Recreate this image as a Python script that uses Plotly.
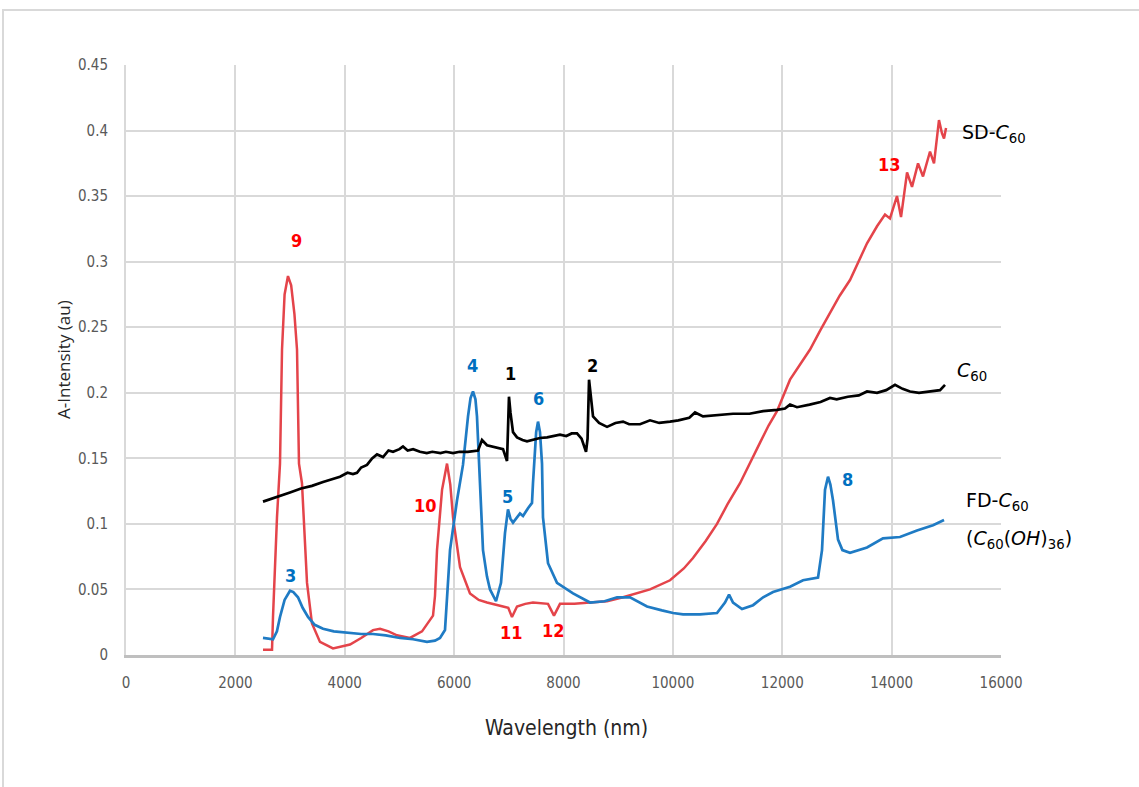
import plotly.graph_objects as go

# ---------------- data ----------------
c60_x = [2505, 2700, 2850, 2999, 3200, 3400, 3603, 3750, 3913, 4050, 4150, 4224, 4300, 4407, 4500,
         4590, 4700, 4800, 4882, 5000, 5065, 5150, 5250, 5376, 5500, 5600, 5750, 5850, 5980, 6100,
         6250, 6437, 6510, 6601, 6700, 6800, 6894, 6967, 6985, 7003, 7030, 7077, 7150, 7250, 7333,
         7450, 7570, 7700, 7800, 7936, 8050, 8150, 8247, 8330, 8412, 8440, 8467, 8500, 8540, 8650,
         8796, 8950, 9089, 9200, 9399, 9582, 9750, 9948, 10100, 10300, 10405, 10551, 10800, 11100,
         11400, 11650, 11904, 12050, 12142, 12270, 12500, 12700, 12873, 12995, 13200, 13400, 13550,
         13733, 13900, 14062, 14200, 14336, 14500, 14702, 14885, 14976]
c60_y = [0.117, 0.120, 0.122, 0.124, 0.127, 0.129, 0.132, 0.134, 0.136, 0.139, 0.138, 0.139, 0.143,
         0.145, 0.150, 0.153, 0.151, 0.156, 0.155, 0.157, 0.159, 0.156, 0.157, 0.155, 0.154, 0.155,
         0.154, 0.155, 0.154, 0.155, 0.155, 0.156, 0.164, 0.160, 0.159, 0.158, 0.157, 0.148, 0.170,
         0.197, 0.185, 0.170, 0.166, 0.164, 0.163, 0.164, 0.1655, 0.166, 0.167, 0.168, 0.167, 0.169,
         0.169, 0.165, 0.155, 0.165, 0.210, 0.195, 0.182, 0.177, 0.174, 0.177, 0.178, 0.176, 0.176,
         0.179, 0.177, 0.178, 0.179, 0.181, 0.185, 0.182, 0.183, 0.184, 0.184, 0.186, 0.187, 0.188,
         0.191, 0.189, 0.191, 0.193, 0.196, 0.195, 0.197, 0.198, 0.201, 0.200, 0.202, 0.206, 0.203,
         0.201, 0.200, 0.201, 0.202, 0.206]

sd_x = [2505, 2670, 2688, 2761, 2816, 2853, 2900, 2962, 3020, 3080, 3127, 3163, 3218, 3310, 3401,
        3547, 3785, 4096, 4300, 4517, 4645, 4800, 4955, 5193, 5413, 5559, 5614, 5650, 5687, 5779,
        5870, 5930, 5980, 6108, 6290, 6450, 6601, 6894, 6990, 7058, 7150, 7300, 7442, 7717, 7826,
        7936, 8200, 8485, 8796, 9089, 9350, 9582, 9948, 10200, 10368, 10600, 10807, 11000, 11228,
        11400, 11594, 11750, 11904, 12142, 12300, 12508, 12700, 12873, 13050, 13239, 13400, 13550,
        13733, 13879, 13970, 14098, 14172, 14282, 14373, 14483, 14574, 14702, 14775, 14866, 14920,
        14958, 14995]
sd_y = [0.004, 0.004, 0.029, 0.105, 0.146, 0.233, 0.275, 0.289, 0.282, 0.260, 0.233, 0.146, 0.131,
        0.055, 0.024, 0.010, 0.005, 0.008, 0.013, 0.019, 0.020, 0.018, 0.015, 0.013, 0.018, 0.027,
        0.030, 0.045, 0.080, 0.126, 0.146, 0.130, 0.105, 0.067, 0.047, 0.042, 0.040, 0.037, 0.036,
        0.029, 0.037, 0.039, 0.040, 0.039, 0.030, 0.039, 0.039, 0.040, 0.041, 0.044, 0.047, 0.050,
        0.057, 0.066, 0.074, 0.087, 0.100, 0.115, 0.131, 0.146, 0.162, 0.175, 0.186, 0.210, 0.220,
        0.233, 0.248, 0.261, 0.274, 0.286, 0.300, 0.314, 0.327, 0.336, 0.333, 0.350, 0.334, 0.368,
        0.357, 0.375, 0.365, 0.384, 0.375, 0.408, 0.398, 0.394, 0.402]

fd_x = [2505, 2688, 2760, 2816, 2900, 2999, 3060, 3145, 3230, 3328, 3450, 3603, 3800, 4041, 4300,
        4517, 4750, 5010, 5250, 5504, 5650, 5742, 5833, 5880, 5925, 6053, 6162, 6254, 6300, 6345,
        6390, 6418, 6455, 6528, 6600, 6656, 6766, 6857, 6930, 6985, 7030, 7077, 7205, 7260, 7351,
        7424, 7442, 7461, 7500, 7534, 7570, 7607, 7625, 7717, 7881, 8174, 8485, 8750, 8979, 9216,
        9527, 9800, 10003, 10186, 10496, 10807, 10953, 11027, 11100, 11264, 11466, 11650, 11831,
        12142, 12380, 12654, 12727, 12782, 12837, 12880, 12928, 13020, 13100, 13239, 13550, 13842,
        14153, 14464, 14757, 14958]
fd_y = [0.013, 0.012, 0.018, 0.029, 0.042, 0.049, 0.048, 0.044, 0.036, 0.029, 0.023, 0.020, 0.018,
        0.017, 0.016, 0.016, 0.015, 0.013, 0.012, 0.010, 0.011, 0.013, 0.019, 0.050, 0.080, 0.118,
        0.145, 0.182, 0.196, 0.201, 0.195, 0.182, 0.146, 0.080, 0.060, 0.050, 0.041, 0.055, 0.093,
        0.111, 0.104, 0.101, 0.108, 0.106, 0.112, 0.116, 0.131, 0.146, 0.170, 0.178, 0.170, 0.146,
        0.105, 0.070, 0.055, 0.047, 0.040, 0.041, 0.044, 0.044, 0.037, 0.034, 0.032, 0.031, 0.031,
        0.032, 0.040, 0.046, 0.040, 0.035, 0.038, 0.044, 0.048, 0.052, 0.057, 0.059, 0.080, 0.126,
        0.136, 0.130, 0.118, 0.088, 0.080, 0.078, 0.082, 0.089, 0.090, 0.095, 0.099, 0.103]

x_ticks = [0, 2000, 4000, 6000, 8000, 10000, 12000, 14000, 16000]
y_ticks = [0, 0.05, 0.1, 0.15, 0.2, 0.25, 0.3, 0.35, 0.4, 0.45]
y_tick_text = ["0", "0.05", "0.1", "0.15", "0.2", "0.25", "0.3", "0.35", "0.4", "0.45"]

# peak labels: (text, x, y, colour)
peak_labels = [
    ("9", 3109, 0.316, "#ff0000"), ("3", 2999, 0.061, "#0070c0"),
    ("4", 6327, 0.221, "#0070c0"), ("1", 7022, 0.215, "#000000"),
    ("2", 8522, 0.221, "#000000"), ("6", 7534, 0.196, "#0070c0"),
    ("5", 6985, 0.121, "#0070c0"), ("10", 5468, 0.114, "#ff0000"),
    ("11", 7058, 0.017, "#ff0000"), ("12", 7826, 0.019, "#ff0000"),
    ("8", 13184, 0.134, "#0070c0"), ("13", 13970, 0.374, "#ff0000"),
]

# series name labels: (html text, x, y)
series_labels = [
    ("SD-<i>C</i><sub>60</sub>", 15250, 0.398),
    ("<i>C</i><sub>60</sub>", 15150, 0.216),
    ("FD-<i>C</i><sub>60</sub>", 15330, 0.117),
    ("(<i>C</i><sub>60</sub>(<i>OH</i>)<sub>36</sub>)", 15330, 0.088),
]

RED = "#e4444a"
BLUE = "#1f7bc4"
BLACK = "#000000"

NARROW = "DejaVu Sans Condensed, Liberation Sans Narrow, sans-serif"

fig = go.Figure()
fig.add_trace(go.Scatter(x=sd_x, y=sd_y, mode="lines", line=dict(color=RED, width=2.5),
                         showlegend=False, name="SD-C60"))
fig.add_trace(go.Scatter(x=fd_x, y=fd_y, mode="lines", line=dict(color=BLUE, width=2.7),
                         showlegend=False, name="FD-C60"))
fig.add_trace(go.Scatter(x=c60_x, y=c60_y, mode="lines", line=dict(color=BLACK, width=2.7),
                         showlegend=False, name="C60"))

tick_font = dict(family=NARROW, size=15, color="#595959")

fig.update_xaxes(range=[0, 16000], tickvals=x_ticks, ticktext=[str(v) for v in x_ticks],
                 showgrid=True, gridcolor="#d9d9d9", gridwidth=2,
                 showline=True, linecolor="#bfbfbf", linewidth=2.5,
                 zeroline=False, ticks="", tickfont=tick_font, ticklabelstandoff=12,
                 fixedrange=True)
fig.update_yaxes(range=[0, 0.45], tickvals=y_ticks, ticktext=y_tick_text,
                 showgrid=True, gridcolor="#d9d9d9", gridwidth=2,
                 showline=True, linecolor="#d9d9d9", linewidth=2,
                 zeroline=False, ticks="", tickfont=tick_font, ticklabelstandoff=13,
                 fixedrange=True)

annotations = []
for t, x, y, c in peak_labels:
    annotations.append(dict(text="<b>" + t + "</b>", x=x, y=y, xref="x", yref="y",
                            xanchor="center", yanchor="middle",
                            showarrow=False, font=dict(family=NARROW, size=18, color=c)))
for t, x, y in series_labels:
    annotations.append(dict(text=t, x=x, y=y, xref="x", yref="y", xanchor="left",
                            yanchor="middle",
                            showarrow=False, font=dict(family="DejaVu Sans, sans-serif", size=19,
                                                       color="#000000")))
annotations.append(dict(text="A-Intensity (au)", x=(63 - 126) / 875, y=0.5, xref="paper", yref="paper",
                        xanchor="center", yanchor="middle",
                        textangle=-90, showarrow=False,
                        font=dict(family="Open Sans, sans-serif", size=17, color="#262626")))
annotations.append(dict(text="Wavelength (nm)", x=0.503, y=-0.124, xref="paper", yref="paper",
                        xanchor="center", yanchor="middle",
                        showarrow=False,
                        font=dict(family=NARROW, size=21, color="#262626")))

W, H = 1139, 787
L, R, T, B = 126, 138, 65, 132
pw, ph = W - L - R, H - T - B
# outer light frame
shapes = [dict(type="rect", xref="paper", yref="paper",
               x0=(3 - L) / pw, x1=(W + 5 - L) / pw,
               y0=(H - B - (H + 5)) / ph, y1=(H - B - 10) / ph,
               line=dict(color="#d9d9d9", width=2), fillcolor="rgba(0,0,0,0)", layer="below")]

fig.update_layout(width=W, height=H, autosize=False,
                  margin=dict(l=L, r=R, t=T, b=B, pad=0),
                  paper_bgcolor="white", plot_bgcolor="white",
                  annotations=annotations, shapes=shapes, showlegend=False)

fig.write_html("out.html", config={"displayModeBar": False},
               post_script="document.body.style.margin='0';document.body.style.overflow='hidden';")
